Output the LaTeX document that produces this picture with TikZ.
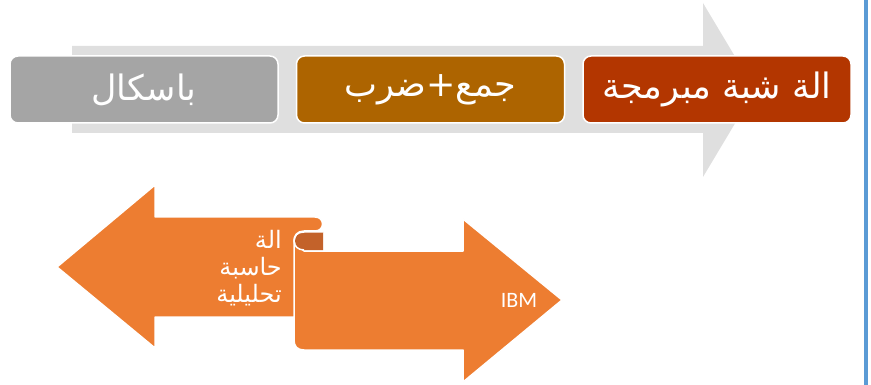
\documentclass[tikz,border=0pt]{standalone}
\usepackage{fontspec}
\setmainfont{Carlito}
\newfontfamily\arabicfont[Script=Arabic]{DejaVu Sans}
\TeXXeTstate=1
\usetikzlibrary{positioning}

\definecolor{flowgrey}{HTML}{DFDFDF}
\definecolor{stagegrey}{HTML}{A5A5A5}
\definecolor{stagebrown}{HTML}{AD6400}
\definecolor{stagered}{HTML}{B33600}
\definecolor{ribbon}{HTML}{ED7D31}
\definecolor{ribbondark}{HTML}{C3622A}
\definecolor{edgeblue}{HTML}{5B9BD5}

\begin{document}
\begin{tikzpicture}[x=1pt,y=-1pt,node distance=17pt]
        \tikzstyle{stage}=[rectangle, rounded corners=8pt, draw=white, line width=1.5pt, minimum width=268pt, minimum height=67pt, text=white, font=\arabicfont\fontsize{35}{40}\selectfont]
        \tikzstyle{ribbonpart}=[fill=ribbon, draw=white, line width=1.5pt, line join=round]
        \tikzstyle{label}=[text=white, font=\fontsize{22}{26}\selectfont]
        \useasboundingbox (0,0) rectangle (871,385);
        % big grey arrow behind the stages
        \fill[flowgrey] (72,46) -- (703,46) -- (703,3) -- (755,90) -- (703,177) -- (703,133) -- (72,133) -- cycle;
        \node[stage, fill=stagegrey] (pascal) at (144,89.5) {\beginR باسكال\endR};
        \node[stage, fill=stagebrown, right=of pascal] (addmul) {\beginR جمع+ضرب\endR};
        \node[stage, fill=stagered, right=of addmul] (program) {\beginR الة شبة مبرمجة\endR};
        % two orange arrows
        \draw[ribbonpart] (304,251) -- (463,251) -- (463,219) -- (562,300) -- (463,382) -- (463,350)
          -- (304,350) .. controls (297,350) and (294,346) .. (294,340) -- (294,242) -- cycle;
        \draw[ribbonpart] (57,267) -- (155,185) -- (155,217) -- (315,217)
          .. controls (325,217) and (325,231) .. (315,231) -- (304,231)
          .. controls (297,231) and (294,236) .. (294,241) -- (294,317) -- (155,317) -- (155,348) -- cycle;
        \fill[ribbondark] (323,232) -- (304,232) .. controls (298,232) and (295,237) .. (295,241)
          .. controls (295,246) and (299,250) .. (304,250) -- (323,250) -- cycle;
        \draw[white, line width=1.5pt] (323,232) -- (304,232) .. controls (297,232) and (294,236) .. (294,241)
          .. controls (294,246) and (298,250) .. (304,250);
        \node[label, align=right, anchor=east, inner sep=0pt, font=\arabicfont\fontsize{24}{27}\selectfont] (analytic) at (282,268)
          {\beginR الة\endR\\ \beginR حاسبة\endR\\ \beginR تحليلية\endR};
        \node[label] (ibm) at (519,300) {IBM};
        % blue edge on the right
        \draw[edgeblue, line width=3.5pt] (866,0) -- (866,385);
\end{tikzpicture}
\end{document}
